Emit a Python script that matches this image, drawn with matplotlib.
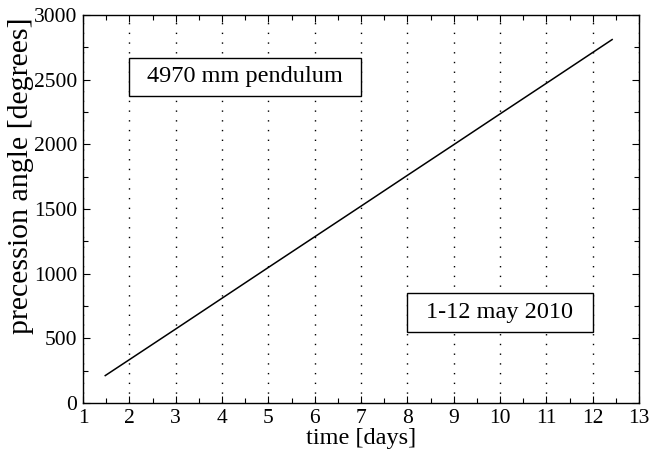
import matplotlib
matplotlib.use("Agg")
from matplotlib import pyplot as plt
from matplotlib.ticker import MultipleLocator
from matplotlib.patches import Rectangle

# data
days = [1.48, 2, 3, 4, 5, 6, 7, 8, 9, 10, 11, 12, 12.42]
angle = [212, 335, 572, 810, 1048, 1285, 1522, 1760, 1997, 2235, 2472, 2710, 2810]
x_ticks = [1, 2, 3, 4, 5, 6, 7, 8, 9, 10, 11, 12, 13]
y_ticks = [0, 500, 1000, 1500, 2000, 2500, 3000]

plt.rcParams['font.family'] = ['Liberation Serif', 'DejaVu Serif']

fig = plt.figure(figsize=(6.49, 4.51), dpi=100)
ax = fig.add_axes([83 / 649, 1 - 403 / 451, (639 - 83) / 649, (403 - 15) / 451])

ax.plot(days, angle, color='black', lw=1.1, zorder=3)

ax.set_xlim(1, 13)
ax.set_ylim(0, 3000)
ax.set_xticks(x_ticks)
ax.set_yticks(y_ticks)
ax.xaxis.set_minor_locator(MultipleLocator(0.5))
ax.yaxis.set_minor_locator(MultipleLocator(250))
ax.tick_params(which='both', direction='in', top=True, right=True, labelsize=15.5, width=0.8)
ax.tick_params(which='major', length=5)
ax.tick_params(which='minor', length=3.5)
ax.tick_params(axis='x', pad=4)
ax.tick_params(axis='y', pad=4)
for s in ax.spines.values():
    s.set_linewidth(1.0)

# vertical dotted grid at the day ticks
ax.grid(axis='x', which='major', color='black', linestyle=(0, (1, 6)), lw=1.0)

ax.set_xlabel('time [days]', fontsize=17.5, labelpad=0)
ax.set_ylabel('precession angle [degrees]', fontsize=21.5)
ax.yaxis.set_label_coords(-0.088, 0.585)

# boxed notes
ax.add_patch(Rectangle((2, 2374), 5, 294, facecolor='white', edgecolor='black', lw=1.0, zorder=5))
ax.text(4.5, 2521, '4970 mm pendulum', fontsize=17.5, ha='center', va='center', zorder=6)
ax.add_patch(Rectangle((8, 549), 4, 302, facecolor='white', edgecolor='black', lw=1.0, zorder=5))
ax.text(10, 700, '1-12 may 2010', fontsize=17.5, ha='center', va='center', zorder=6)

fig.savefig('out.png', dpi=100)
